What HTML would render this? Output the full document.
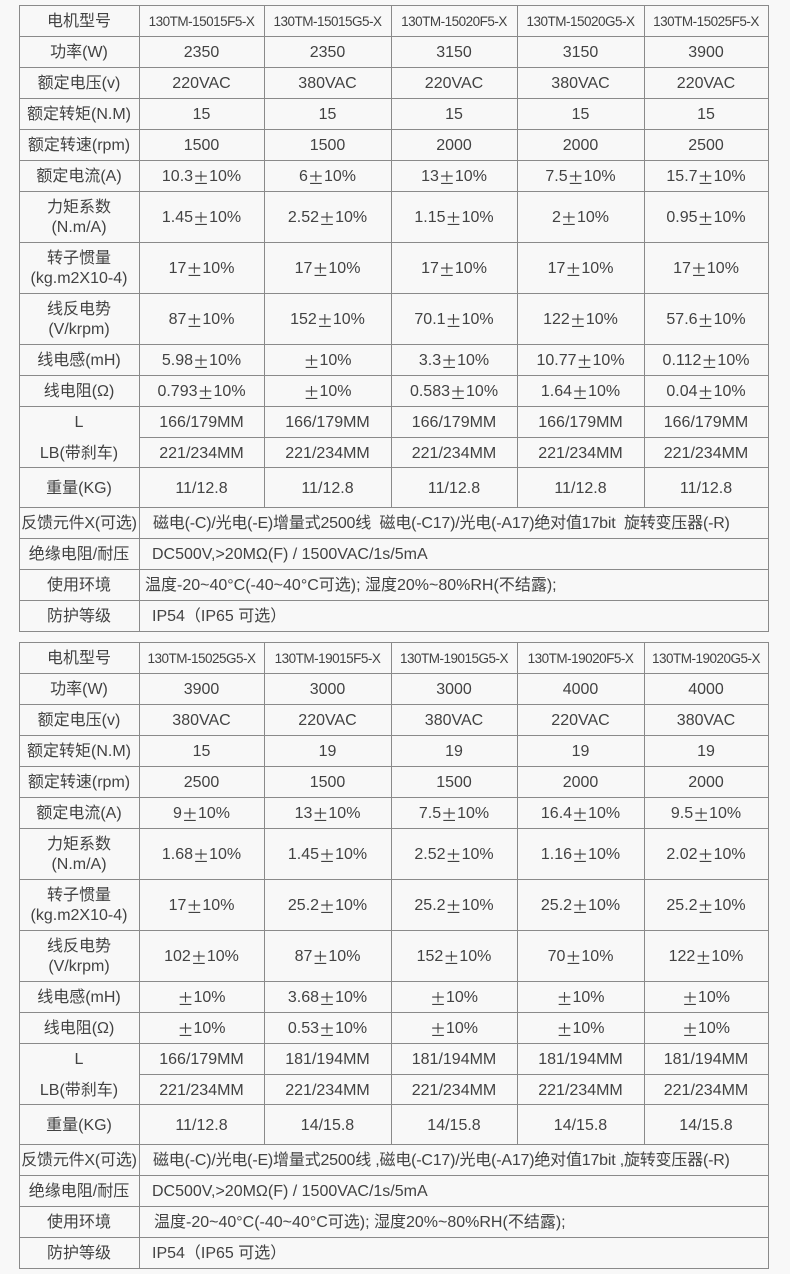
<!DOCTYPE html>
<html><head><meta charset="utf-8">
<style>
html,body{margin:0;padding:0;background:#f8f8f8;}
body{width:790px;height:1274px;position:relative;overflow:hidden;font-family:"Liberation Sans","Noto Sans CJK SC",sans-serif;color:#424242;font-size:16px;}
.t{position:absolute;left:0;width:790px;height:630px;}
.h{position:absolute;left:19px;width:750px;height:1px;background:#8a8a8a;}
.v{position:absolute;width:1px;background:#8a8a8a;}
.c{position:absolute;display:flex;align-items:center;justify-content:center;text-align:center;line-height:20px;padding-top:3px;box-sizing:border-box;white-space:nowrap;}
.l{justify-content:flex-start;}
.c0{left:19px;width:120px}.c1{left:139px;width:125px}.c2{left:264px;width:127px}.c3{left:391px;width:126px}.c4{left:517px;width:127px}.c5{left:644px;width:124px}
.cs{left:139px;width:629px}
.r0{top:0;height:31px}.r1{top:31px;height:31px}.r2{top:62px;height:31px}.r3{top:93px;height:31px}.r4{top:124px;height:31px}.r5{top:155px;height:31px}
.r6{top:186px;height:51px}.r7{top:237px;height:51px}.r8{top:288px;height:51px}
.r9{top:339px;height:31px}.r10{top:370px;height:31px}.rL{top:401px;height:31px}.rB{top:432px;height:30px}
.r12{top:462px;height:40px}.r13{top:502px;height:31px}.r14{top:533px;height:31px}.r15{top:564px;height:31px}.r16{top:595px;height:31px}
.m{font-size:13.5px;letter-spacing:-0.5px;}
.pm{font-family:"Noto Sans CJK SC",sans-serif;}
.lt{letter-spacing:-0.2px;}
</style></head><body>

<!-- TABLE 1 -->
<div class="t" style="top:5px">
<div class="h" style="top:0"></div><div class="h" style="top:31px"></div><div class="h" style="top:62px"></div><div class="h" style="top:93px"></div><div class="h" style="top:124px"></div><div class="h" style="top:155px"></div><div class="h" style="top:186px"></div><div class="h" style="top:237px"></div><div class="h" style="top:288px"></div><div class="h" style="top:339px"></div><div class="h" style="top:370px"></div><div class="h" style="top:401px"></div><div class="h" style="top:432px;left:139px;width:630px"></div><div class="h" style="top:462px"></div><div class="h" style="top:502px"></div><div class="h" style="top:533px"></div><div class="h" style="top:564px"></div><div class="h" style="top:595px"></div><div class="h" style="top:626px"></div>
<div class="v" style="left:19px;top:0;height:627px"></div><div class="v" style="left:139px;top:0;height:627px"></div><div class="v" style="left:768px;top:0;height:627px"></div>
<div class="v" style="left:264px;top:0;height:502px"></div><div class="v" style="left:391px;top:0;height:502px"></div><div class="v" style="left:517px;top:0;height:502px"></div><div class="v" style="left:644px;top:0;height:502px"></div>

<div class="c c0 r0">电机型号</div><div class="c c1 r0 m">130TM-15015F5-X</div><div class="c c2 r0 m">130TM-15015G5-X</div><div class="c c3 r0 m">130TM-15020F5-X</div><div class="c c4 r0 m">130TM-15020G5-X</div><div class="c c5 r0 m">130TM-15025F5-X</div>
<div class="c c0 r1">功率(W)</div><div class="c c1 r1">2350</div><div class="c c2 r1">2350</div><div class="c c3 r1">3150</div><div class="c c4 r1">3150</div><div class="c c5 r1">3900</div>
<div class="c c0 r2">额定电压(v)</div><div class="c c1 r2">220VAC</div><div class="c c2 r2">380VAC</div><div class="c c3 r2">220VAC</div><div class="c c4 r2">380VAC</div><div class="c c5 r2">220VAC</div>
<div class="c c0 r3">额定转矩(N.M)</div><div class="c c1 r3">15</div><div class="c c2 r3">15</div><div class="c c3 r3">15</div><div class="c c4 r3">15</div><div class="c c5 r3">15</div>
<div class="c c0 r4">额定转速(rpm)</div><div class="c c1 r4">1500</div><div class="c c2 r4">1500</div><div class="c c3 r4">2000</div><div class="c c4 r4">2000</div><div class="c c5 r4">2500</div>
<div class="c c0 r5">额定电流(A)</div><div class="c c1 r5">10.3<span class="pm">±</span>10%</div><div class="c c2 r5">6<span class="pm">±</span>10%</div><div class="c c3 r5">13<span class="pm">±</span>10%</div><div class="c c4 r5">7.5<span class="pm">±</span>10%</div><div class="c c5 r5">15.7<span class="pm">±</span>10%</div>
<div class="c c0 r6">力矩系数<br>(N.m/A)</div><div class="c c1 r6">1.45<span class="pm">±</span>10%</div><div class="c c2 r6">2.52<span class="pm">±</span>10%</div><div class="c c3 r6">1.15<span class="pm">±</span>10%</div><div class="c c4 r6">2<span class="pm">±</span>10%</div><div class="c c5 r6">0.95<span class="pm">±</span>10%</div>
<div class="c c0 r7">转子惯量<br>(kg.m2X10-4)</div><div class="c c1 r7">17<span class="pm">±</span>10%</div><div class="c c2 r7">17<span class="pm">±</span>10%</div><div class="c c3 r7">17<span class="pm">±</span>10%</div><div class="c c4 r7">17<span class="pm">±</span>10%</div><div class="c c5 r7">17<span class="pm">±</span>10%</div>
<div class="c c0 r8">线反电势<br>(V/krpm)</div><div class="c c1 r8">87<span class="pm">±</span>10%</div><div class="c c2 r8">152<span class="pm">±</span>10%</div><div class="c c3 r8">70.1<span class="pm">±</span>10%</div><div class="c c4 r8">122<span class="pm">±</span>10%</div><div class="c c5 r8">57.6<span class="pm">±</span>10%</div>
<div class="c c0 r9">线电感(mH)</div><div class="c c1 r9">5.98<span class="pm">±</span>10%</div><div class="c c2 r9"><span class="pm">±</span>10%</div><div class="c c3 r9">3.3<span class="pm">±</span>10%</div><div class="c c4 r9">10.77<span class="pm">±</span>10%</div><div class="c c5 r9">0.112<span class="pm">±</span>10%</div>
<div class="c c0 r10">线电阻(Ω)</div><div class="c c1 r10">0.793<span class="pm">±</span>10%</div><div class="c c2 r10"><span class="pm">±</span>10%</div><div class="c c3 r10">0.583<span class="pm">±</span>10%</div><div class="c c4 r10">1.64<span class="pm">±</span>10%</div><div class="c c5 r10">0.04<span class="pm">±</span>10%</div>
<div class="c c0 rL">L</div><div class="c c1 rL">166/179MM</div><div class="c c2 rL">166/179MM</div><div class="c c3 rL">166/179MM</div><div class="c c4 rL">166/179MM</div><div class="c c5 rL">166/179MM</div>
<div class="c c0 rB">LB(带刹车)</div><div class="c c1 rB">221/234MM</div><div class="c c2 rB">221/234MM</div><div class="c c3 rB">221/234MM</div><div class="c c4 rB">221/234MM</div><div class="c c5 rB">221/234MM</div>
<div class="c c0 r12">重量(KG)</div><div class="c c1 r12">11/12.8</div><div class="c c2 r12">11/12.8</div><div class="c c3 r12">11/12.8</div><div class="c c4 r12">11/12.8</div><div class="c c5 r12">11/12.8</div>
<div class="c c0 r13 lt">反馈元件X(可选)</div><div class="c cs r13 l lt" style="padding-left:14px">磁电(-C)/光电(-E)增量式2500线&nbsp;&nbsp;磁电(-C17)/光电(-A17)绝对值17bit&nbsp;&nbsp;旋转变压器(-R)</div>
<div class="c c0 r14">绝缘电阻/耐压</div><div class="c cs r14 l" style="padding-left:13px">DC500V,&gt;20MΩ(F) / 1500VAC/1s/5mA</div>
<div class="c c0 r15">使用环境</div><div class="c cs r15 l" style="padding-left:6px">温度-20~40°C(-40~40°C可选); 湿度20%~80%RH(不结露);</div>
<div class="c c0 r16">防护等级</div><div class="c cs r16 l" style="padding-left:13px">IP54（IP65 可选）</div>
</div>

<!-- TABLE 2 -->
<div class="t" style="top:642px">
<div class="h" style="top:0"></div><div class="h" style="top:31px"></div><div class="h" style="top:62px"></div><div class="h" style="top:93px"></div><div class="h" style="top:124px"></div><div class="h" style="top:155px"></div><div class="h" style="top:186px"></div><div class="h" style="top:237px"></div><div class="h" style="top:288px"></div><div class="h" style="top:339px"></div><div class="h" style="top:370px"></div><div class="h" style="top:401px"></div><div class="h" style="top:432px;left:139px;width:630px"></div><div class="h" style="top:462px"></div><div class="h" style="top:502px"></div><div class="h" style="top:533px"></div><div class="h" style="top:564px"></div><div class="h" style="top:595px"></div><div class="h" style="top:626px"></div>
<div class="v" style="left:19px;top:0;height:627px"></div><div class="v" style="left:139px;top:0;height:627px"></div><div class="v" style="left:768px;top:0;height:627px"></div>
<div class="v" style="left:264px;top:0;height:502px"></div><div class="v" style="left:391px;top:0;height:502px"></div><div class="v" style="left:517px;top:0;height:502px"></div><div class="v" style="left:644px;top:0;height:502px"></div>

<div class="c c0 r0">电机型号</div><div class="c c1 r0 m">130TM-15025G5-X</div><div class="c c2 r0 m">130TM-19015F5-X</div><div class="c c3 r0 m">130TM-19015G5-X</div><div class="c c4 r0 m">130TM-19020F5-X</div><div class="c c5 r0 m">130TM-19020G5-X</div>
<div class="c c0 r1">功率(W)</div><div class="c c1 r1">3900</div><div class="c c2 r1">3000</div><div class="c c3 r1">3000</div><div class="c c4 r1">4000</div><div class="c c5 r1">4000</div>
<div class="c c0 r2">额定电压(v)</div><div class="c c1 r2">380VAC</div><div class="c c2 r2">220VAC</div><div class="c c3 r2">380VAC</div><div class="c c4 r2">220VAC</div><div class="c c5 r2">380VAC</div>
<div class="c c0 r3">额定转矩(N.M)</div><div class="c c1 r3">15</div><div class="c c2 r3">19</div><div class="c c3 r3">19</div><div class="c c4 r3">19</div><div class="c c5 r3">19</div>
<div class="c c0 r4">额定转速(rpm)</div><div class="c c1 r4">2500</div><div class="c c2 r4">1500</div><div class="c c3 r4">1500</div><div class="c c4 r4">2000</div><div class="c c5 r4">2000</div>
<div class="c c0 r5">额定电流(A)</div><div class="c c1 r5">9<span class="pm">±</span>10%</div><div class="c c2 r5">13<span class="pm">±</span>10%</div><div class="c c3 r5">7.5<span class="pm">±</span>10%</div><div class="c c4 r5">16.4<span class="pm">±</span>10%</div><div class="c c5 r5">9.5<span class="pm">±</span>10%</div>
<div class="c c0 r6">力矩系数<br>(N.m/A)</div><div class="c c1 r6">1.68<span class="pm">±</span>10%</div><div class="c c2 r6">1.45<span class="pm">±</span>10%</div><div class="c c3 r6">2.52<span class="pm">±</span>10%</div><div class="c c4 r6">1.16<span class="pm">±</span>10%</div><div class="c c5 r6">2.02<span class="pm">±</span>10%</div>
<div class="c c0 r7">转子惯量<br>(kg.m2X10-4)</div><div class="c c1 r7">17<span class="pm">±</span>10%</div><div class="c c2 r7">25.2<span class="pm">±</span>10%</div><div class="c c3 r7">25.2<span class="pm">±</span>10%</div><div class="c c4 r7">25.2<span class="pm">±</span>10%</div><div class="c c5 r7">25.2<span class="pm">±</span>10%</div>
<div class="c c0 r8">线反电势<br>(V/krpm)</div><div class="c c1 r8">102<span class="pm">±</span>10%</div><div class="c c2 r8">87<span class="pm">±</span>10%</div><div class="c c3 r8">152<span class="pm">±</span>10%</div><div class="c c4 r8">70<span class="pm">±</span>10%</div><div class="c c5 r8">122<span class="pm">±</span>10%</div>
<div class="c c0 r9">线电感(mH)</div><div class="c c1 r9"><span class="pm">±</span>10%</div><div class="c c2 r9">3.68<span class="pm">±</span>10%</div><div class="c c3 r9"><span class="pm">±</span>10%</div><div class="c c4 r9"><span class="pm">±</span>10%</div><div class="c c5 r9"><span class="pm">±</span>10%</div>
<div class="c c0 r10">线电阻(Ω)</div><div class="c c1 r10"><span class="pm">±</span>10%</div><div class="c c2 r10">0.53<span class="pm">±</span>10%</div><div class="c c3 r10"><span class="pm">±</span>10%</div><div class="c c4 r10"><span class="pm">±</span>10%</div><div class="c c5 r10"><span class="pm">±</span>10%</div>
<div class="c c0 rL">L</div><div class="c c1 rL">166/179MM</div><div class="c c2 rL">181/194MM</div><div class="c c3 rL">181/194MM</div><div class="c c4 rL">181/194MM</div><div class="c c5 rL">181/194MM</div>
<div class="c c0 rB">LB(带刹车)</div><div class="c c1 rB">221/234MM</div><div class="c c2 rB">221/234MM</div><div class="c c3 rB">221/234MM</div><div class="c c4 rB">221/234MM</div><div class="c c5 rB">221/234MM</div>
<div class="c c0 r12">重量(KG)</div><div class="c c1 r12">11/12.8</div><div class="c c2 r12">14/15.8</div><div class="c c3 r12">14/15.8</div><div class="c c4 r12">14/15.8</div><div class="c c5 r12">14/15.8</div>
<div class="c c0 r13 lt">反馈元件X(可选)</div><div class="c cs r13 l lt" style="padding-left:14px">磁电(-C)/光电(-E)增量式2500线 ,磁电(-C17)/光电(-A17)绝对值17bit ,旋转变压器(-R)</div>
<div class="c c0 r14">绝缘电阻/耐压</div><div class="c cs r14 l" style="padding-left:13px">DC500V,&gt;20MΩ(F) / 1500VAC/1s/5mA</div>
<div class="c c0 r15">使用环境</div><div class="c cs r15 l" style="padding-left:15px">温度-20~40°C(-40~40°C可选); 湿度20%~80%RH(不结露);</div>
<div class="c c0 r16">防护等级</div><div class="c cs r16 l" style="padding-left:13px">IP54（IP65 可选）</div>
</div>

</body></html>
